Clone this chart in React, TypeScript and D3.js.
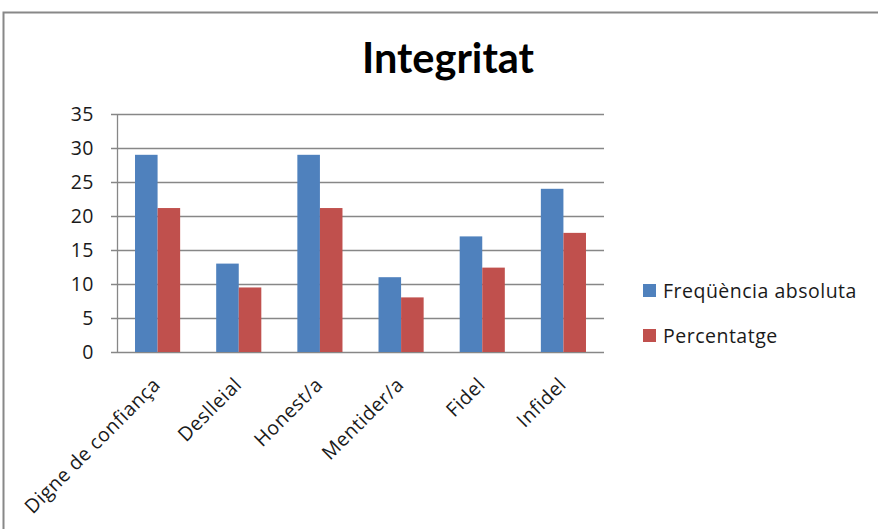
import React from "react";
import * as d3 from "d3";

const categories = ["Digne de confiança", "Deslleial", "Honest/a", "Mentider/a", "Fidel", "Infidel"];
const freqValues = [29, 13, 29, 11, 17, 24];
const pctValues = [21.17, 9.49, 21.17, 8.03, 12.41, 17.52];
const seriesNames = ["Freqüència absoluta", "Percentatge"];
const seriesColors = ["#4F81BD", "#C0504D"];
const yTicks = [0, 5, 10, 15, 20, 25, 30, 35];
const title = "Integritat";

export default function App() {
  const W = 878, H = 529;
  const left = 117, right = 604, top = 114, bottom = 352;
  const x = d3.scaleBand<string>().domain(categories).range([left, right]).paddingInner(0.444).paddingOuter(0.222);
  const y = d3.scaleLinear().domain([0, 35]).range([bottom, top]);
  const bw = x.bandwidth() / 2;
  const font = "'Open Sans', Lato, sans-serif";
  const tfont = "Lato, 'Open Sans', sans-serif";
  const fs = 19.5;
  const ls = 0.5;
  const series = [freqValues, pctValues];
  return (
    <svg width={W} height={H} style={{ position: "absolute", left: 0, top: 0, background: "#fff" }}>
      <rect x={3.5} y={12.5} width={W + 10} height={H + 10} fill="#fff" stroke="#888" strokeWidth={2} />
      <text x={448} y={73} textAnchor="middle" fontFamily={tfont} fontWeight={700} fontSize={41.5} fill="#000">{title}</text>
      {yTicks.map((t) => (
        <g key={t}>
          <line x1={left - 6} x2={right} y1={Math.round(y(t)) + 0.5} y2={Math.round(y(t)) + 0.5} stroke="#878787" strokeWidth={1.3} />
          <text x={94} y={y(t)} dy="0.36em" textAnchor="end" fontFamily={font} fontSize={fs} letterSpacing={ls} fill="#1a1a1a">{t}</text>
        </g>
      ))}
      <line x1={left + 0.5} x2={left + 0.5} y1={top} y2={bottom} stroke="#878787" strokeWidth={1.3} />
      {series.map((vals, si) =>
        categories.map((c, i) => (
          <rect key={si + "-" + i} x={(x(c) as number) + si * bw} y={y(vals[i])} width={bw} height={bottom - y(vals[i])} fill={seriesColors[si]} />
        ))
      )}
      {categories.map((c) => {
        const cx = (x(c) as number) + x.bandwidth() / 2 + 4;
        const cy = 386;
        return (
          <text key={c} x={cx} y={cy} transform={`rotate(-45 ${cx} ${cy})`} textAnchor="end" fontFamily={font} fontSize={fs} letterSpacing={ls} fill="#1a1a1a">{c}</text>
        );
      })}
      {seriesNames.map((n, i) => (
        <g key={n}>
          <rect x={643} y={284 + i * 45} width={13} height={13} fill={seriesColors[i]} />
          <text x={663} y={298 + i * 45} fontFamily={font} fontSize={fs} letterSpacing={ls} fill="#1a1a1a">{n}</text>
        </g>
      ))}
    </svg>
  );
}
